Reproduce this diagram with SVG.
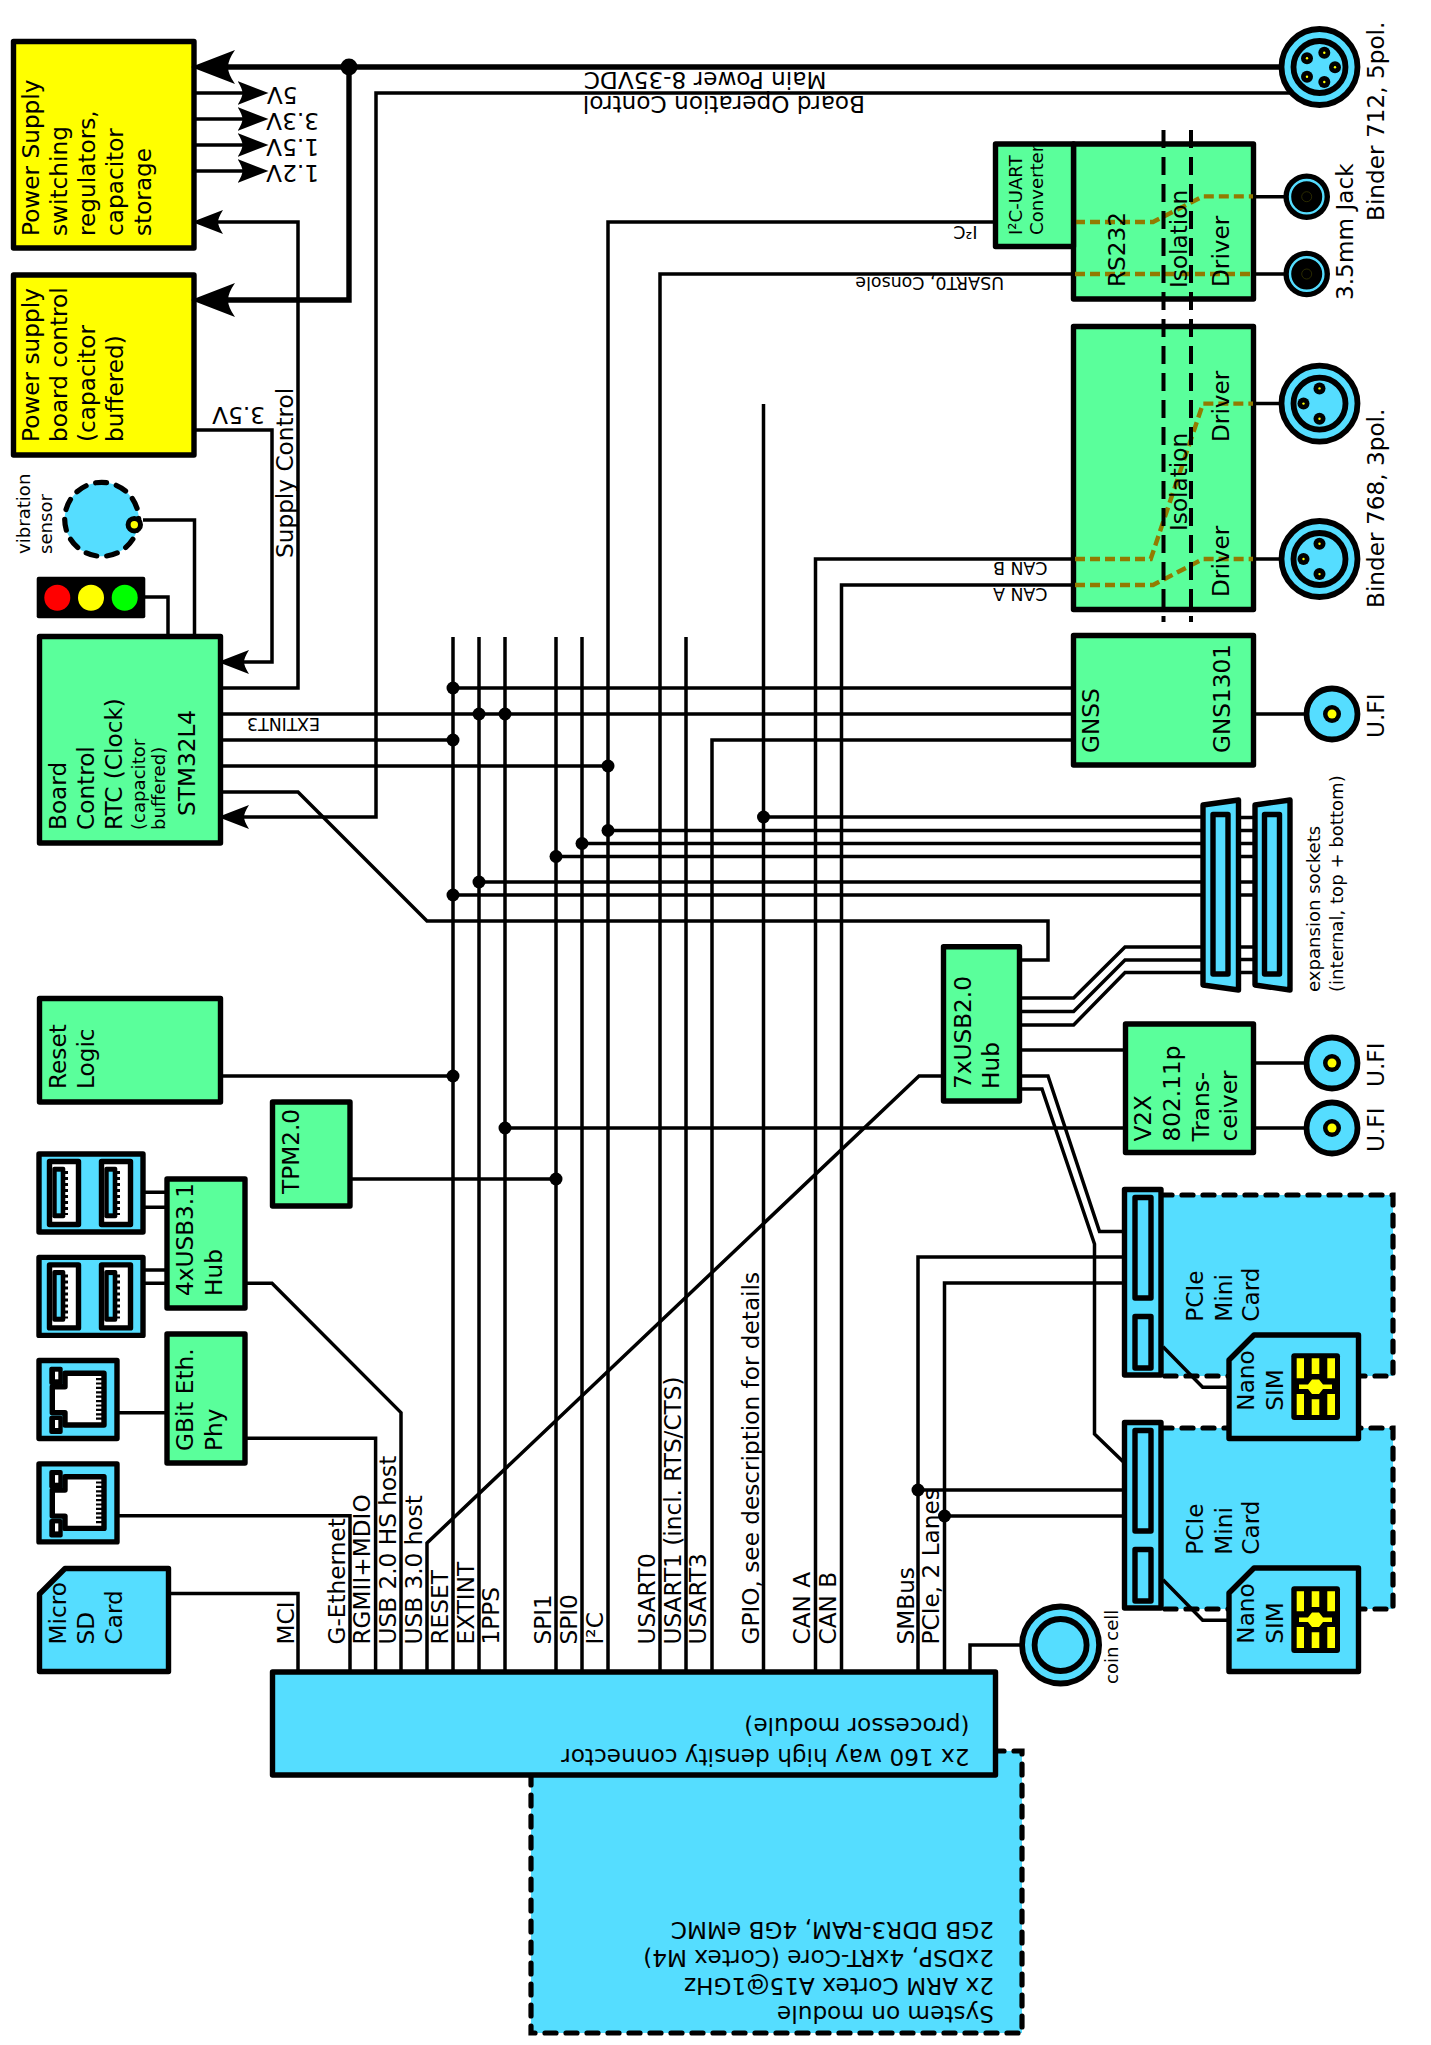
<svg xmlns="http://www.w3.org/2000/svg" width="1431" height="2045" viewBox="0 0 1431 2045">
<style>
text{font-family:"DejaVu Sans","Liberation Sans",sans-serif;font-size:23.2px;fill:#000}
.s{font-size:17.4px}
.m{font-size:18.1px}
.box{stroke:#000;stroke-width:5.4;stroke-linejoin:round}
.g{fill:#5aff9b}.y{fill:#ffff00}.b{fill:#55ddff}.k{fill:#000;stroke:none}.w{fill:#fff}
.dash{fill:#55ddff;stroke:#000;stroke-width:5.2;stroke-dasharray:11 10;stroke-linecap:round}
.wire{fill:none;stroke:#000;stroke-width:3.5;stroke-linejoin:miter}
.thick{fill:none;stroke:#000;stroke-width:5.4}
.iso{fill:none;stroke:#000;stroke-width:4;stroke-dasharray:18 9}
.ol{fill:none;stroke:#927a00;stroke-width:4.4;stroke-dasharray:10 5}
.dot{fill:#000}
.ring{fill:#55ddff;stroke:#000;stroke-width:5.8}
.ping{fill:#000}.pin{fill:#ffff00}
</style>
<defs>
<marker id="big" markerUnits="userSpaceOnUse" viewBox="0 0 44 34" markerWidth="44" markerHeight="34" refX="29" refY="17" orient="auto"><path d="M44,17 L0,0 Q7,10 7,17 Q7,24 0,34 Z"/></marker>
<marker id="small" markerUnits="userSpaceOnUse" viewBox="0 0 31 24" markerWidth="31" markerHeight="24" refX="16" refY="12" orient="auto"><path d="M31,12 L0,0 Q5,8 5,12 Q5,16 0,24 Z"/></marker>
</defs>

<g id="psu-main"><rect class="box y" x="13.5" y="41.5" width="180.5" height="206.5"/>
<text transform="translate(39,236) rotate(-90)">Power Supply</text><text transform="translate(67,236) rotate(-90)">switching</text><text transform="translate(95,236) rotate(-90)">regulators,</text><text transform="translate(123,236) rotate(-90)">capacitor</text><text transform="translate(151,236) rotate(-90)">storage</text></g>
<g id="psu-board"><rect class="box y" x="13.5" y="275" width="180.5" height="180"/>
<text transform="translate(39,442) rotate(-90)">Power supply</text><text transform="translate(67,442) rotate(-90)">board control</text><text transform="translate(95,442) rotate(-90)">(capacitor</text><text transform="translate(123,442) rotate(-90)">buffered)</text></g>
<g id="vibration"><circle cx="101.7" cy="519.3" r="37" class="dash"/><circle cx="134.3" cy="524.7" r="6.2" fill="#ff0" stroke="#000" stroke-width="5"/>
<text class="m" transform="translate(30,554) rotate(-90)">vibration</text><text class="m" transform="translate(52,554) rotate(-90)">sensor</text></g>
<g id="traffic-light"><rect x="36.7" y="576.7" width="108.6" height="41.6" rx="2" class="k"/><circle cx="57.3" cy="597.7" r="13" fill="#f00"/><circle cx="91" cy="597.7" r="13" fill="#ff0"/><circle cx="124.7" cy="597.7" r="13" fill="#0f0"/></g>
<g id="board-control"><rect class="box g" x="39.5" y="636.5" width="181" height="206.5"/>
<text transform="translate(66,830) rotate(-90)">Board</text><text transform="translate(94,830) rotate(-90)">Control</text><text transform="translate(122,830) rotate(-90)">RTC (Clock)</text><text class="m" transform="translate(145,830) rotate(-90)">(capacitor</text><text class="m" transform="translate(165,830) rotate(-90)">buffered)</text><text transform="translate(195,816) rotate(-90)">STM32L4</text></g>
<g id="reset-logic"><rect class="box g" x="39.5" y="998.5" width="181" height="103.5"/>
<text transform="translate(66,1089) rotate(-90)">Reset</text><text transform="translate(94,1089) rotate(-90)">Logic</text></g>
<g id="tpm"><rect class="box g" x="272.5" y="1102" width="77.5" height="104"/><text transform="translate(298.5,1194) rotate(-90)">TPM2.0</text></g>

<g id="usb-a"><rect class="box b" x="39" y="1154" width="104" height="78"/>
<rect class="box w" x="49.5" y="1161.5" width="29" height="63"/><rect class="k" x="52.3" y="1166.7" width="13" height="51.6" rx="2"/><rect class="b" x="56.7" y="1171.7" width="4" height="41.6"/><path d="M66.5,1171V1215" stroke="#000" stroke-width="3" stroke-dasharray="3 3"/>
<rect class="box w" x="101.5" y="1161.5" width="29" height="63"/><rect class="k" x="104.3" y="1166.7" width="13" height="51.6" rx="2"/><rect class="b" x="108.7" y="1171.7" width="4" height="41.6"/><path d="M118.5,1171V1215" stroke="#000" stroke-width="3" stroke-dasharray="3 3"/></g>
<g id="usb-b" transform="translate(0,103.4)"><rect class="box b" x="39" y="1154" width="104" height="78"/>
<rect class="box w" x="49.5" y="1161.5" width="29" height="63"/><rect class="k" x="52.3" y="1166.7" width="13" height="51.6" rx="2"/><rect class="b" x="56.7" y="1171.7" width="4" height="41.6"/><path d="M66.5,1171V1215" stroke="#000" stroke-width="3" stroke-dasharray="3 3"/>
<rect class="box w" x="101.5" y="1161.5" width="29" height="63"/><rect class="k" x="104.3" y="1166.7" width="13" height="51.6" rx="2"/><rect class="b" x="108.7" y="1171.7" width="4" height="41.6"/><path d="M118.5,1171V1215" stroke="#000" stroke-width="3" stroke-dasharray="3 3"/></g>
<g id="usb-hub"><rect class="box g" x="167" y="1179" width="78" height="129"/><text transform="translate(193,1296) rotate(-90)">4xUSB3.1</text><text transform="translate(222,1296) rotate(-90)">Hub</text></g>
<g id="gbit-phy"><rect class="box g" x="167" y="1334" width="78" height="129"/><text transform="translate(193,1451) rotate(-90)">GBit Eth.</text><text transform="translate(222,1451) rotate(-90)">Phy</text></g>

<g id="eth-a"><rect class="box b" x="39" y="1360.5" width="78" height="78"/>
<path class="box w" d="M65,1373.3H104V1425H65V1412.7H52.3V1386.7H65Z"/><rect class="k" x="49.3" y="1366.7" width="13.4" height="18.3" rx="2"/><rect class="w" x="55" y="1371.7" width="3.3" height="7.6"/><rect class="k" x="49.3" y="1415.7" width="13.4" height="18.3" rx="2"/><rect class="w" x="55" y="1420" width="3.3" height="8"/><path d="M99,1378V1420" stroke="#000" stroke-width="6" stroke-dasharray="2.2 2.2"/></g>
<g id="eth-b" transform="translate(0,103.4)"><rect class="box b" x="39" y="1360.5" width="78" height="78"/>
<path class="box w" d="M65,1373.3H104V1425H65V1412.7H52.3V1386.7H65Z"/><rect class="k" x="49.3" y="1366.7" width="13.4" height="18.3" rx="2"/><rect class="w" x="55" y="1371.7" width="3.3" height="7.6"/><rect class="k" x="49.3" y="1415.7" width="13.4" height="18.3" rx="2"/><rect class="w" x="55" y="1420" width="3.3" height="8"/><path d="M99,1378V1420" stroke="#000" stroke-width="6" stroke-dasharray="2.2 2.2"/></g>
<g id="micro-sd"><path class="box b" d="M65,1568.5H168.5V1671.5H39.5V1594Z"/><text transform="translate(66,1644.5) rotate(-90)">Micro</text><text transform="translate(94,1644.5) rotate(-90)">SD</text><text transform="translate(122,1644.5) rotate(-90)">Card</text></g>

<g id="som"><rect class="dash" x="531" y="1751" width="491" height="282"/>
<text transform="translate(994,1922) rotate(180)">2GB DDR3-RAM, 4GB eMMC</text><text transform="translate(994,1950) rotate(180)">2xDSP, 4xRT-Core (Cortex M4)</text><text transform="translate(994,1978) rotate(180)">2x ARM Cortex A15@1GHz</text><text transform="translate(994,2006) rotate(180)">System on module</text></g>
<g id="connector-160"><rect class="box b" x="272.5" y="1672" width="723" height="103"/><text transform="translate(969.5,1749) rotate(180)">2x 160 way high density connector</text><text transform="translate(969.5,1718) rotate(180)">(processor module)</text></g>
<g id="coin-cell"><circle class="ring" cx="1060.6" cy="1645" r="38.5"/><circle class="ring" cx="1060.6" cy="1645" r="26" stroke-width="5"/><text class="m" transform="translate(1118,1684) rotate(-90)">coin cell</text></g>

<g id="hub7"><rect class="box g" x="943.5" y="946.7" width="76" height="154.3"/><text transform="translate(970.7,1089) rotate(-90)">7xUSB2.0</text><text transform="translate(999,1089) rotate(-90)">Hub</text></g>
<g id="v2x"><rect class="box g" x="1125.5" y="1024" width="128" height="128.5"/><text transform="translate(1151,1141.5) rotate(-90)">V2X</text><text transform="translate(1180,1141.5) rotate(-90)">802.11p</text><text transform="translate(1208.8,1141.5) rotate(-90)">Trans-</text><text transform="translate(1237,1141.5) rotate(-90)">ceiver</text></g>
<g id="ufi-1"><circle class="ring" cx="1332" cy="1063" r="25.5"/><circle cx="1332" cy="1063" r="9" fill="#000"/><circle cx="1332" cy="1063" r="4.5" fill="#ff0"/><text transform="translate(1383.5,1087) rotate(-90)">U.FI</text></g>
<g id="ufi-2"><circle class="ring" cx="1332" cy="1128" r="25.5"/><circle cx="1332" cy="1128" r="9" fill="#000"/><circle cx="1332" cy="1128" r="4.5" fill="#ff0"/><text transform="translate(1383.5,1152) rotate(-90)">U.FI</text></g>
<g id="gnss"><rect class="box g" x="1073.5" y="635.5" width="180" height="129.5"/><text transform="translate(1098.6,753) rotate(-90)">GNSS</text><text transform="translate(1229.5,753) rotate(-90)">GNS1301</text></g>
<g id="ufi-gnss"><circle class="ring" cx="1332" cy="714" r="25.5"/><circle cx="1332" cy="714" r="9" fill="#000"/><circle cx="1332" cy="714" r="4.5" fill="#ff0"/><text transform="translate(1383.5,738) rotate(-90)">U.FI</text></g>

<g id="expansion"><path class="box b" d="M1203,805L1238.5,800V990L1203,985Z"/><rect class="box b" x="1213" y="814.5" width="15" height="159.5"/>
<path class="box b" d="M1255,805L1290,800V990L1255,985Z"/><rect class="box b" x="1264.5" y="814.5" width="15" height="159.5"/>
<text class="m" transform="translate(1320,992) rotate(-90)">expansion sockets</text><text class="m" transform="translate(1342.5,992) rotate(-90)">(internal, top + bottom)</text></g>

<g id="can"><rect class="box g" x="1073.5" y="326.5" width="180" height="283"/>
<path class="ol" d="M1075,559H1150.7L1203,403.6H1253"/><path class="ol" d="M1075,585H1153L1203,559H1253"/>
<text transform="translate(1187,531) rotate(-90)">Isolation</text><text transform="translate(1229,442) rotate(-90)">Driver</text><text transform="translate(1229,597) rotate(-90)">Driver</text></g>
<g id="rs232"><rect class="box g" x="1073.5" y="144" width="180" height="155"/>
<path class="ol" d="M1075,222H1153L1203,196.4H1253"/><path class="ol" d="M1075,274H1253"/>
<text transform="translate(1125,287) rotate(-90)">RS232</text><text transform="translate(1187,288) rotate(-90)">Isolation</text><text transform="translate(1229,287) rotate(-90)">Driver</text></g>
<g id="i2c-uart"><rect class="box g" x="995.5" y="144" width="78" height="102.5"/><text class="m" transform="translate(1021.5,235) rotate(-90)">I²C-UART</text><text class="m" transform="translate(1042.8,235) rotate(-90)">Converter</text></g>

<g id="binder-712"><circle class="ring" cx="1319.5" cy="67" r="38"/><circle class="ring" cx="1319.5" cy="67" r="26" stroke-width="5"/>
<circle class="ping" cx="1324.3" cy="52.7" r="6"/><circle class="ping" cx="1335" cy="67.3" r="6"/><circle class="ping" cx="1324.3" cy="82" r="6"/><circle class="ping" cx="1307" cy="58.3" r="6"/><circle class="ping" cx="1307" cy="76.7" r="6"/>
<circle class="pin" cx="1324.3" cy="52.7" r="1.2"/><circle class="pin" cx="1335" cy="67.3" r="1.2"/><circle class="pin" cx="1324.3" cy="82" r="1.2"/><circle class="pin" cx="1307" cy="58.3" r="1.2"/><circle class="pin" cx="1307" cy="76.7" r="1.2"/>
<text transform="translate(1383.5,221) rotate(-90)">Binder 712, 5pol.</text></g>
<g id="jack-1"><circle cx="1306.7" cy="196.7" r="23.3" fill="#000"/><circle cx="1306.7" cy="196.7" r="16.7" fill="#000" stroke="#55ddff" stroke-width="2.4"/><circle cx="1306.7" cy="196.7" r="5" fill="none" stroke="#444400" stroke-width=".6"/></g>
<g id="jack-2"><circle cx="1306.7" cy="274" r="23.3" fill="#000"/><circle cx="1306.7" cy="274" r="16.7" fill="#000" stroke="#55ddff" stroke-width="2.4"/><circle cx="1306.7" cy="274" r="5" fill="none" stroke="#444400" stroke-width=".6"/><text transform="translate(1353,300) rotate(-90)">3.5mm Jack</text></g>
<g id="binder-768-a"><circle class="ring" cx="1319.5" cy="403.6" r="38"/><circle class="ring" cx="1319.5" cy="403.6" r="26" stroke-width="5"/>
<circle class="ping" cx="1319.5" cy="388.4" r="6"/><circle class="ping" cx="1303.5" cy="403.6" r="6"/><circle class="ping" cx="1319.5" cy="418.7" r="6"/><circle class="pin" cx="1319.5" cy="388.4" r="1.2"/><circle class="pin" cx="1303.5" cy="403.6" r="1.2"/><circle class="pin" cx="1319.5" cy="418.7" r="1.2"/></g>
<g id="binder-768-b"><circle class="ring" cx="1319.5" cy="559" r="38"/><circle class="ring" cx="1319.5" cy="559" r="26" stroke-width="5"/>
<circle class="ping" cx="1319.5" cy="543.8" r="6"/><circle class="ping" cx="1303.5" cy="559" r="6"/><circle class="ping" cx="1319.5" cy="574.1" r="6"/><circle class="pin" cx="1319.5" cy="543.8" r="1.2"/><circle class="pin" cx="1303.5" cy="559" r="1.2"/><circle class="pin" cx="1319.5" cy="574.1" r="1.2"/>
<text transform="translate(1383.5,608) rotate(-90)">Binder 768, 3pol.</text></g>

<g id="pcie-2" transform="translate(0,233)"><path class="dash" d="M1161,1195H1393V1376H1161"/><rect class="box b" x="1124.5" y="1189.5" width="36.5" height="185.5"/><rect class="box b" x="1135" y="1197.5" width="16" height="100.5"/><rect class="box b" x="1135" y="1316.5" width="16" height="51.5"/>
<text transform="translate(1203,1321.7) rotate(-90)">PCIe</text><text transform="translate(1231.7,1321.7) rotate(-90)">Mini</text><text transform="translate(1259.3,1321.7) rotate(-90)">Card</text>
<g id="sim-2"><path class="box b" d="M1254,1335H1358.5V1438.5H1229V1360Z"/>
<rect class="k" x="1291.3" y="1353.3" width="48.7" height="66.7" rx="3"/><path class="y" d="M1296.7,1358.3h7.3v20h-7.3zM1311.7,1358.3h7.6v15.7h-7.6zM1327.3,1358.3h7.7v20h-7.7zM1296.7,1394h7.3v21h-7.3zM1311.7,1399.3h7.6v15.7h-7.6zM1327.3,1394h7.7v21h-7.7zM1299,1384.5H1308L1312,1379.5H1319L1323,1384.5H1332V1389H1323L1319,1394H1312L1308,1389H1299Z"/>
<text transform="translate(1254.3,1410.7) rotate(-90)">Nano</text><text transform="translate(1283.3,1410.7) rotate(-90)">SIM</text></g></g>
<g id="pcie-1"><path class="dash" d="M1161,1195H1393V1376H1161"/><rect class="box b" x="1124.5" y="1189.5" width="36.5" height="185.5"/><rect class="box b" x="1135" y="1197.5" width="16" height="100.5"/><rect class="box b" x="1135" y="1316.5" width="16" height="51.5"/>
<text transform="translate(1203,1321.7) rotate(-90)">PCIe</text><text transform="translate(1231.7,1321.7) rotate(-90)">Mini</text><text transform="translate(1259.3,1321.7) rotate(-90)">Card</text>
<g id="sim-1"><path class="box b" d="M1254,1335H1358.5V1438.5H1229V1360Z"/>
<rect class="k" x="1291.3" y="1353.3" width="48.7" height="66.7" rx="3"/><path class="y" d="M1296.7,1358.3h7.3v20h-7.3zM1311.7,1358.3h7.6v15.7h-7.6zM1327.3,1358.3h7.7v20h-7.7zM1296.7,1394h7.3v21h-7.3zM1311.7,1399.3h7.6v15.7h-7.6zM1327.3,1394h7.7v21h-7.7zM1299,1384.5H1308L1312,1379.5H1319L1323,1384.5H1332V1389H1323L1319,1394H1312L1308,1389H1299Z"/>
<text transform="translate(1254.3,1410.7) rotate(-90)">Nano</text><text transform="translate(1283.3,1410.7) rotate(-90)">SIM</text></g></g>

<g id="connectors">
<path class="thick" d="M1283,67H206" marker-end="url(#big)"/>
<path class="thick" d="M349,67V300H206" marker-end="url(#big)"/>
<path class="wire" d="M1293,93H376V817H233" marker-end="url(#small)"/>
<path class="wire" d="M195,93H253.5" marker-end="url(#small)"/>
<path class="wire" d="M195,119H253.5" marker-end="url(#small)"/>
<path class="wire" d="M195,145H253.5" marker-end="url(#small)"/>
<path class="wire" d="M195,171H253.5" marker-end="url(#small)"/>
<path class="wire" d="M221,688H298V222H207" marker-end="url(#small)"/>
<path class="wire" d="M195,430H272V662H233" marker-end="url(#small)"/>
<path class="wire" d="M143,520H194.5V635"/>
<path class="wire" d="M145,597H168V635"/>
<path class="wire" d="M221,792H298L427,921H1048V960H1021"/>
<path class="wire" d="M453,637V1672M479,637V1672M505,637V1672M556,637V1672M582,637V1672M686,637V1672"/>
<path class="wire" d="M608,1672V222H995"/>
<path class="wire" d="M660,1672V274H1073"/>
<path class="wire" d="M712,1672V740H1073"/>
<path class="wire" d="M763.5,1672V404"/>
<path class="wire" d="M815.5,1672V559H1073"/>
<path class="wire" d="M841.5,1672V585H1073"/>
<path class="wire" d="M918,1672V1257H1124"/>
<path class="wire" d="M944.5,1672V1283H1124"/>
<path class="wire" d="M918,1490H1124M944.5,1516H1124"/>
<path class="wire" d="M970,1672V1645H1021"/>
<path class="wire" d="M453,688H1073M221,714H1073M221,740H453M221,766H608"/>
<path class="wire" d="M763,817H1201M608,830.5H1201M582,843.5H1201M556,856.5H1201M479,882H1201M453,895H1201"/>
<path class="wire" d="M1240,817.5H1253M1240,830.5H1253M1240,843.5H1253M1240,856.5H1253M1240,882H1253M1240,895H1253M1240,947H1253M1240,959.5H1253M1240,972.5H1253"/>
<path class="wire" d="M1021,998H1073.6L1125,947H1201M1021,1011.5H1073.6L1125,960H1201M1021,1025H1073.6L1125,972.5H1201"/>
<path class="wire" d="M1021,1050H1124"/>
<path class="wire" d="M1021,1076H1048L1099.5,1231.5H1124"/>
<path class="wire" d="M1021,1089H1042L1094.5,1244V1434L1123.5,1462"/>
<path class="wire" d="M943,1076H919L427,1543V1672"/>
<path class="wire" d="M221,1076H453M505,1128H1124M350,1179H556"/>
<path class="wire" d="M1255,1063H1308M1255,1128H1308M1255,714H1308"/>
<path class="wire" d="M1255,403.6H1283M1255,559H1283M1255,196.7H1285M1255,274H1285"/>
<path class="wire" d="M145,1192.3H166M145,1207.3H166M145,1270H166M145,1283.3H166"/>
<path class="wire" d="M247,1283.3H272L401,1412.6V1672"/>
<path class="wire" d="M119,1412.7H166M247,1438.3H375.6V1672"/>
<path class="wire" d="M119,1515.7H350V1672"/>
<path class="wire" d="M170,1593.6H298V1672"/>
<path class="wire" d="M1163,1346.7L1202.7,1387.3H1228M1163,1579.7L1202.7,1620.3H1228"/>
<path class="iso" d="M1163.5,130V622M1191,130V622"/>
<g class="dot"><circle cx="349" cy="67" r="8.5"/><circle cx="453" cy="688" r="6.5"/><circle cx="479" cy="714" r="6.5"/><circle cx="505" cy="714" r="6.5"/><circle cx="453" cy="740" r="6.5"/><circle cx="608" cy="766" r="6.5"/><circle cx="608" cy="830.5" r="6.5"/><circle cx="582" cy="843.5" r="6.5"/><circle cx="556" cy="856.5" r="6.5"/><circle cx="479" cy="882" r="6.5"/><circle cx="453" cy="895" r="6.5"/><circle cx="453" cy="1076" r="6.5"/><circle cx="505" cy="1128" r="6.5"/><circle cx="556" cy="1179" r="6.5"/><circle cx="763.5" cy="817" r="6.5"/><circle cx="918" cy="1490" r="6.5"/><circle cx="944.5" cy="1516" r="6.5"/></g>
</g>

<g id="labels">
<text transform="translate(297.5,87) rotate(180)">5V</text><text transform="translate(319,113) rotate(180)">3.3V</text><text transform="translate(319,139) rotate(180)">1.5V</text><text transform="translate(319,165) rotate(180)">1.2V</text>
<text transform="translate(265,407) rotate(180)">3.5V</text>
<text transform="translate(293,558) rotate(-90)">Supply Control</text>
<text transform="translate(826.5,71.5) rotate(180)">Main Power 8-35VDC</text>
<text transform="translate(865,95.5) rotate(180)">Board Operation Control</text>
<text class="s" transform="translate(977.5,225.5) rotate(180)">I²C</text>
<text class="s" transform="translate(1004,277) rotate(180)">USART0, Console</text>
<text class="s" transform="translate(1047.5,561.5) rotate(180)">CAN B</text>
<text class="s" transform="translate(1047.5,587.5) rotate(180)">CAN A</text>
<text class="s" transform="translate(320,717.5) rotate(180)">EXTINT3</text>
<text transform="translate(294,1644.5) rotate(-90)">MCI</text>
<text transform="translate(344.5,1644.5) rotate(-90)">G-Ethernet</text>
<text transform="translate(370,1644.5) rotate(-90)">RGMII+MDIO</text>
<text transform="translate(396,1644.5) rotate(-90)">USB 2.0 HS host</text>
<text transform="translate(421.5,1644.5) rotate(-90)">USB 3.0 host</text>
<text transform="translate(447.5,1644.5) rotate(-90)">RESET</text>
<text transform="translate(473.5,1644.5) rotate(-90)">EXTINT</text>
<text transform="translate(499,1644.5) rotate(-90)">1PPS</text>
<text transform="translate(551,1644.5) rotate(-90)">SPI1</text>
<text transform="translate(576.7,1644.5) rotate(-90)">SPI0</text>
<text transform="translate(602.5,1644.5) rotate(-90)">I²C</text>
<text transform="translate(654.5,1644.5) rotate(-90)">USART0</text>
<text transform="translate(681,1644.5) rotate(-90)">USART1 (incl. RTS/CTS)</text>
<text transform="translate(706,1644.5) rotate(-90)">USART3</text>
<text transform="translate(759,1644.5) rotate(-90)">GPIO, see description for details</text>
<text transform="translate(810,1644.5) rotate(-90)">CAN A</text>
<text transform="translate(835.5,1644.5) rotate(-90)">CAN B</text>
<text transform="translate(913.5,1644.5) rotate(-90)">SMBus</text>
<text transform="translate(939,1644.5) rotate(-90)">PCIe, 2 Lanes</text>
</g>
</svg>
